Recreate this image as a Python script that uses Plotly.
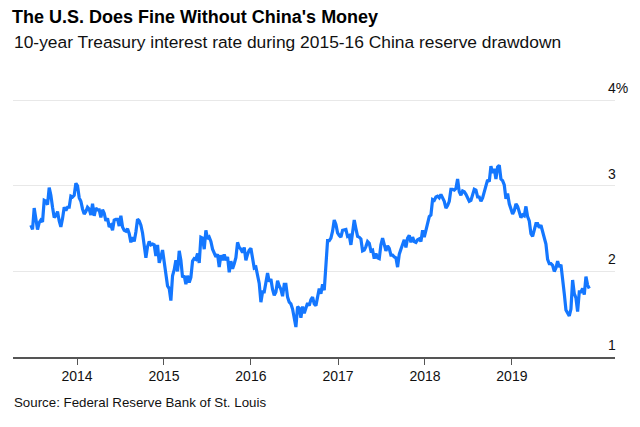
import pandas as pd
import plotly.graph_objects as go

# Weekly (Friday) 10-year Treasury yields, %
y2013 = [2.54, 2.49, 2.74, 2.59, 2.49, 2.57, 2.60, 2.58, 2.83, 2.82, 2.78, 2.98, 2.89, 2.75,
         2.63, 2.65, 2.70, 2.59, 2.52, 2.62, 2.75, 2.71, 2.75, 2.75, 2.88, 2.87, 2.89, 3.03]
y2014 = [3.00, 2.86, 2.82, 2.73, 2.67, 2.70, 2.75, 2.73, 2.66, 2.79, 2.65, 2.74, 2.72, 2.72,
         2.63, 2.72, 2.68, 2.59, 2.62, 2.52, 2.54, 2.48, 2.60, 2.61, 2.61, 2.53, 2.65, 2.52,
         2.48, 2.47, 2.50, 2.44, 2.34, 2.40, 2.35, 2.46, 2.61, 2.59, 2.54, 2.45, 2.31, 2.16,
         2.29, 2.35, 2.31, 2.32, 2.31, 2.18, 2.31, 2.10, 2.17, 2.25]
y2015 = [2.11, 1.97, 1.83, 1.80, 1.66, 1.95, 2.02, 2.13, 2.00, 2.24, 2.13, 1.93, 1.95, 1.85,
         1.95, 1.87, 1.93, 2.12, 2.15, 2.14, 2.21, 2.10, 2.40, 2.39, 2.26, 2.48, 2.38, 2.40,
         2.35, 2.26, 2.20, 2.17, 2.20, 2.05, 2.19, 2.13, 2.20, 2.13, 2.17, 1.99, 2.12, 2.03,
         2.09, 2.16, 2.34, 2.28, 2.26, 2.22, 2.28, 2.13, 2.20, 2.25]
y2016 = [2.27, 2.13, 2.04, 2.05, 1.94, 1.86, 1.64, 1.76, 1.76, 1.88, 1.98, 1.88, 1.91, 1.79,
         1.72, 1.76, 1.89, 1.83, 1.79, 1.71, 1.85, 1.85, 1.70, 1.64, 1.62, 1.56, 1.46, 1.35,
         1.59, 1.57, 1.46, 1.59, 1.51, 1.58, 1.63, 1.60, 1.67, 1.70, 1.62, 1.60, 1.73, 1.80,
         1.74, 1.85, 1.78, 2.15, 2.36, 2.36, 2.39, 2.47, 2.60, 2.55, 2.45]
y2017 = [2.42, 2.40, 2.48, 2.49, 2.49, 2.41, 2.42, 2.31, 2.49, 2.60, 2.50, 2.41, 2.40, 2.38,
         2.24, 2.25, 2.29, 2.35, 2.33, 2.24, 2.25, 2.15, 2.21, 2.16, 2.15, 2.31, 2.39, 2.33,
         2.24, 2.30, 2.27, 2.19, 2.19, 2.17, 2.16, 2.05, 2.20, 2.26, 2.33, 2.37, 2.28, 2.39,
         2.42, 2.34, 2.40, 2.35, 2.34, 2.37, 2.38, 2.35, 2.48, 2.40]
y2018 = [2.48, 2.55, 2.64, 2.66, 2.84, 2.83, 2.87, 2.88, 2.86, 2.90, 2.85, 2.82, 2.74, 2.77,
         2.82, 2.96, 2.96, 2.95, 2.97, 3.08, 2.93, 2.89, 2.94, 2.93, 2.90, 2.85, 2.82, 2.83,
         2.89, 2.96, 2.95, 2.87, 2.87, 2.82, 2.86, 2.94, 2.99, 3.07, 3.05, 3.23, 3.15, 3.20,
         3.08, 3.22, 3.24, 3.08, 3.06, 3.01, 2.85, 2.91, 2.79, 2.72]
y2019 = [2.67, 2.71, 2.79, 2.76, 2.70, 2.63, 2.66, 2.65, 2.76, 2.64, 2.59, 2.44, 2.41, 2.50,
         2.56, 2.56, 2.51, 2.54, 2.47, 2.39, 2.32, 2.14, 2.09, 2.09, 2.07, 2.00, 2.04, 2.12,
         2.05, 2.08, 1.86, 1.74, 1.55, 1.52, 1.48, 1.56, 1.90, 1.74, 1.69, 1.53, 1.76, 1.76,
         1.80, 1.73, 1.94, 1.84, 1.80]

year_starts = ["2013-06-21", "2014-01-03", "2015-01-02", "2016-01-01",
               "2017-01-06", "2018-01-05", "2019-01-04"]
series = [y2013, y2014, y2015, y2016, y2017, y2018, y2019]

dates, values = [], []
for start, vals in zip(year_starts, series):
    dates += list(pd.date_range(start, periods=len(vals), freq="W-FRI"))
    values += vals

x_tick_years = [2014, 2015, 2016, 2017, 2018, 2019]
y_ticks = [1, 2, 3, 4]
y_tick_text = ["1", "2", "3", "4%"]

FONT = "Liberation Sans, Arial, sans-serif"

# plot area: x 13..615 px, y 95.7..357 px
PL, PR, PT, PB = 13, 615, 95.7, 357
W, H = 640, 427


def px_x(px):
    return (px - PL) / (PR - PL)


def px_y(py):
    return (PB - py) / (PB - PT)


fig = go.Figure()
fig.add_trace(go.Scatter(
    x=dates, y=values, mode="lines",
    line=dict(color="#1477ff", width=3.2),
    hoverinfo="skip", showlegend=False,
))

for v, t in zip(y_ticks, y_tick_text):
    fig.add_annotation(
        x=px_x(606), xref="paper", y=v, yref="y", text=t, showarrow=False,
        xanchor="left", yanchor="middle", yshift=12,
        font=dict(family=FONT, size=14, color="#111111"),
    )

fig.update_layout(
    width=W, height=H,
    margin=dict(l=PL, r=W - PR, t=PT, b=H - PB),
    paper_bgcolor="white", plot_bgcolor="white",
    font=dict(family=FONT, color="#111111"),
    title=dict(
        text="<b>The U.S. Does Fine Without China's Money</b>",
        x=12 / W, xref="container", xanchor="left",
        y=1 - 17 / H, yref="container", yanchor="middle",
        font=dict(family=FONT, size=18, color="#000000"),
    ),
    xaxis=dict(
        type="date",
        range=["2013-04-07", "2020-03-09"],
        tickvals=[f"{y}-01-01" for y in x_tick_years],
        ticktext=[str(y) for y in x_tick_years],
        ticks="outside", ticklen=6, tickwidth=1, tickcolor="#555555",
        showgrid=False, zeroline=False,
        showline=True, linecolor="#555555", linewidth=1.5,
        tickfont=dict(family=FONT, size=14, color="#111111"),
        fixedrange=True,
    ),
    yaxis=dict(
        range=[1, 4.05],
        tickvals=y_ticks, showticklabels=False,
        showgrid=True, gridcolor="#e8e8e8", gridwidth=1,
        zeroline=False, showline=False, ticks="",
        fixedrange=True,
    ),
)

fig.add_annotation(
    x=px_x(12), xref="paper", y=px_y(42), yref="paper",
    text="10-year Treasury interest rate during 2015-16 China reserve drawdown",
    showarrow=False, xanchor="left", yanchor="middle",
    font=dict(family=FONT, size=17.4, color="#111111"),
)
fig.add_annotation(
    x=px_x(12), xref="paper", y=px_y(403), yref="paper",
    text="Source: Federal Reserve Bank of St. Louis",
    showarrow=False, xanchor="left", yanchor="middle",
    font=dict(family=FONT, size=13.3, color="#111111"),
)

fig.write_html(
    "out.html",
    config={"displayModeBar": False, "staticPlot": True},
    post_script="document.body.style.margin='0';document.body.style.padding='0';",
)
